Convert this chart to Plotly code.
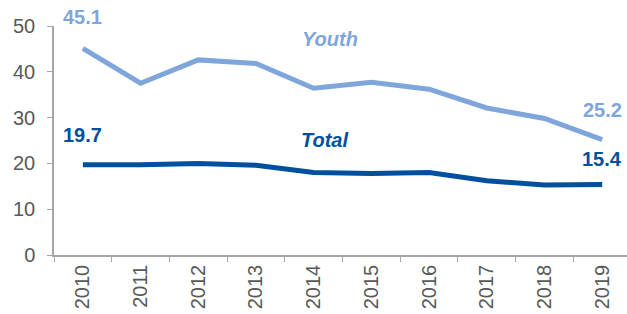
import plotly.graph_objects as go

years = ["2010", "2011", "2012", "2013", "2014", "2015", "2016", "2017", "2018", "2019"]
youth = [45.1, 37.5, 42.6, 41.8, 36.4, 37.7, 36.2, 32.1, 29.8, 25.2]
total = [19.7, 19.7, 20.0, 19.6, 18.0, 17.8, 18.0, 16.2, 15.3, 15.4]
y_ticks = [0, 10, 20, 30, 40, 50]

c_youth = "#7FA6DA"
c_total = "#00509D"
font = "Liberation Sans, Arial, sans-serif"

fig = go.Figure()
fig.add_trace(go.Scatter(x=years, y=youth, mode="lines", line=dict(color=c_youth, width=5), name="Youth"))
fig.add_trace(go.Scatter(x=years, y=total, mode="lines", line=dict(color=c_total, width=5), name="Total"))

n = len(years) - 1
labels = [
    (0, youth, c_youth, 31),
    (n, youth, c_youth, 30),
    (0, total, c_total, 30),
    (n, total, c_total, 25),
]
for i, series, color, ys in labels:
    fig.add_annotation(x=i, y=series[i], text=f"<b>{series[i]}</b>", showarrow=False,
                       yshift=ys, font=dict(family=font, size=20, color=color))
fig.add_annotation(x=4.28, y=47.2, text="<b><i>Youth</i></b>", showarrow=False,
                   font=dict(family=font, size=20, color=c_youth))
fig.add_annotation(x=4.18, y=25.15, text="<b><i>Total</i></b>", showarrow=False,
                   font=dict(family=font, size=20, color=c_total))

fig.update_layout(
    width=627, height=314,
    margin=dict(l=54, r=0, t=26, b=59),
    paper_bgcolor="white", plot_bgcolor="white",
    showlegend=False,
    font=dict(family=font, size=20, color="#595959"),
)
fig.update_xaxes(
    type="category", range=[-0.5, 9.43], tickangle=-90, automargin=False,
    showline=True, linecolor="#A6A6A6", linewidth=1.5,
    ticks="outside", ticklen=5, tickcolor="#A6A6A6", tickson="boundaries",
    showgrid=False, tickfont=dict(size=20, color="#595959"),
)
fig.update_yaxes(
    range=[0, 50], tickvals=y_ticks, showline=True, linecolor="#A6A6A6", linewidth=1.5,
    ticks="outside", ticklen=5, tickcolor="#A6A6A6", showgrid=False, zeroline=False,
    automargin=False, ticklabelstandoff=8,
    tickfont=dict(size=20, color="#595959"),
)
fig.write_html(
    "out.html",
    config={"displayModeBar": False},
    post_script="document.body.style.margin='0';document.body.style.overflow='hidden';",
)
